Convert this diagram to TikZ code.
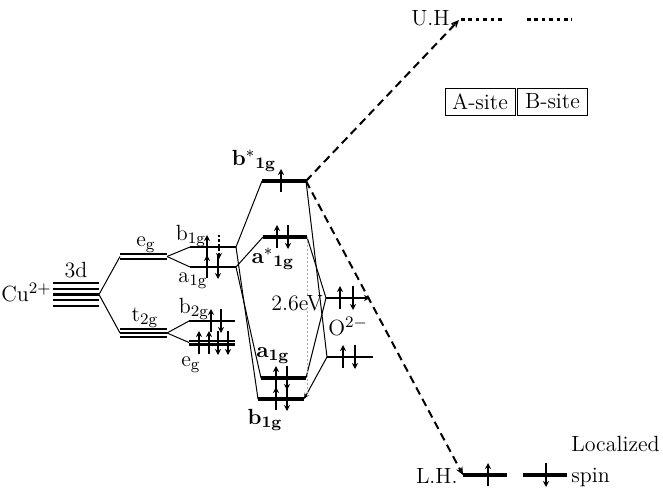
\documentclass[tikz,border=0pt]{standalone}
\usepackage{tikz}
\usetikzlibrary{arrows.meta}
\tikzset{
  thinlev/.style={line width=1.1pt},
  bondlev/.style={line width=1.7pt},
  link/.style={line width=0.5pt},
  spin/.style={-{Stealth[length=3pt,width=3pt]}, line width=0.85pt},
  hop/.style={-{Stealth[length=4pt,width=3.5pt]}, line width=1pt, dash pattern=on 4pt off 2.5pt},
  gap/.style={line width=0.5pt, draw=gray!70, dash pattern=on 1pt off 1pt},
  lbl/.style={inner sep=0pt, font=\fontsize{11}{13}\selectfont},
  sitebox/.style={draw, line width=0.4pt, minimum width=35pt, minimum height=13.5pt, inner sep=1pt, font=\fontsize{11}{13}\selectfont},
}
\newcommand\upspin[2]{\draw[spin] (#1,#2+11) -- (#1,#2-12);}
\newcommand\dnspin[2]{\draw[spin] (#1,#2-12) -- (#1,#2+12);}
\begin{document}
\begin{tikzpicture}[x=0.5pt, y=-0.5pt]
\useasboundingbox (0,0) rectangle (663,498);
% Cu 3d
\foreach \y in {283,289,294.5,300,306} \draw[thinlev] (53,\y) -- (99,\y);
\coordinate (d) at (99,294.5);
\node[lbl, anchor=east] (cu) at (52,293) {Cu$^{2+}$};
\node[lbl] (d3) at (76,270) {3d};
% cubic field
\foreach \y in {254,259} \draw[thinlev] (120,\y) -- (167,\y);
\foreach \y in {329,333,337} \draw[thinlev] (120,\y) -- (167,\y);
\coordinate (eg-l) at (120,256.5); \coordinate (eg-r) at (167,256.5);
\coordinate (tg-l) at (120,333); \coordinate (tg-r) at (167,333);
\node[lbl] (eglab) at (146,245) {e$_{\rm g}$};
\node[lbl] (tglab) at (145,318) {t$_{\rm 2g}$};
\draw[link] (d) -- (eg-l);
\draw[link] (d) -- (tg-l);
% tetragonal split
\coordinate (b1-l) at (190,247); \coordinate (b1-r) at (236,247);
\coordinate (a1-l) at (190,267); \coordinate (a1-r) at (236,267);
\coordinate (b2-l) at (189,321); \coordinate (b2-r) at (235,321);
\coordinate (e2-l) at (189,342.5); \coordinate (e2-r) at (235,342.5);
\draw[thinlev] (b1-l) -- (b1-r);
\draw[thinlev] (a1-l) -- (a1-r);
\draw[thinlev] (b2-l) -- (b2-r);
\foreach \y in {341,344.5} \draw[thinlev] (189,\y) -- (235,\y);
\draw[link] (eg-r) -- (b1-l);
\draw[link] (eg-r) -- (a1-l);
\draw[link] (tg-r) -- (b2-l);
\draw[link] (tg-r) -- (e2-l);
\node[lbl] (b1lab) at (191,236) {b$_{\rm 1g}$};
\node[lbl] (a1lab) at (193,281) {a$_{\rm 1g}$};
\node[lbl] (b2lab) at (194,309) {b$_{\rm 2g}$};
\node[lbl] (e2lab) at (191,365) {e$_{\rm g}$};
\upspin{207}{247}
\draw[spin, dash pattern=on 1.2pt off 1pt] (219,235) -- (219,259);
\upspin{207}{267} \dnspin{218}{267}
\upspin{211}{321} \dnspin{221}{321}
\upspin{199}{343} \upspin{209}{343} \dnspin{218}{343} \dnspin{228}{343}
% Cu-O levels
\coordinate (bs-l) at (262,181); \coordinate (bs-r) at (306,181);
\coordinate (as-l) at (263,237); \coordinate (as-r) at (307,237);
\coordinate (ab-l) at (261,378); \coordinate (ab-r) at (306,378);
\coordinate (bb-l) at (258,399); \coordinate (bb-r) at (304,399);
\draw[bondlev] (bs-l) -- (bs-r);
\draw[bondlev] (as-l) -- (as-r);
\draw[bondlev] (ab-l) -- (ab-r);
\draw[bondlev] (bb-l) -- (bb-r);
\node[lbl] (bslab) at (254,161) {$\mathbf{b^{*}{}_{1g}}$};
\node[lbl] (aslab) at (273,259) {$\mathbf{a^{*}{}_{1g}}$};
\node[lbl] (ablab) at (273,356) {$\mathbf{a_{1g}}$};
\node[lbl] (bblab) at (265,420) {$\mathbf{b_{1g}}$};
\upspin{281}{181}
\upspin{277}{237} \dnspin{288}{237}
\upspin{276}{378} \dnspin{287}{378}
\upspin{276}{399} \dnspin{287}{399}
\draw[link] (b1-r) -- (bs-l);
\draw[link] (a1-r) -- (as-l);
\draw[link] (b1-r) -- (bb-l);
\draw[link] (a1-r) -- (ab-l);
% O 2p
\coordinate (ou-l) at (326,298); \coordinate (ou-r) at (370,298);
\coordinate (ol-l) at (327,357); \coordinate (ol-r) at (373,357);
\draw[thinlev, -{Stealth[length=3pt,width=3pt]}] (ou-l) -- (ou-r);
\draw[thinlev] (ol-l) -- (ol-r);
\upspin{340}{298} \dnspin{353}{298}
\upspin{343}{357} \dnspin{355}{357}
\node[lbl] (olab) at (348,327) {O$^{2-}$};
\draw[link] (bs-r) -- (ol-l);
\draw[link] (as-r) -- (ou-l);
\draw[link] (ou-l) -- (ab-r);
\draw[link, -{Stealth[length=3pt,width=2.5pt]}] (ol-l) -- (bb-r);
% gap
\node[lbl] (ev) at (297,303) {2.6eV};
\draw[gap] (as-r) -- (as-r |- ev.north);
\draw[gap] (as-r |- ev.south) -- (as-r |- bb-r);
% Hubbard bands
\node[lbl, anchor=east] (uh) at (456,18) {U.H.};
\coordinate (uhp) at (459,20);
\draw[line width=1.5pt, dash pattern=on 1.8pt off 1.9pt] (461,19) -- (505,19);
\draw[line width=1.5pt, dash pattern=on 1.8pt off 1.9pt] (527,19) -- (572,19);
\draw[hop] (bs-r) -- (uhp);
\node[sitebox] (asite) at (480,101.5) {A-site};
\node[sitebox] (bsite) at (552.5,101.5) {B-site};
\node[lbl, anchor=east] (lh) at (458,476) {L.H.};
\coordinate (lh-l) at (463,475); \coordinate (lh-r) at (507,475);
\coordinate (ls-l) at (523,475); \coordinate (ls-r) at (567,475);
\draw[bondlev] (lh-l) -- (lh-r);
\draw[bondlev] (ls-l) -- (ls-r);
\upspin{488}{475} \dnspin{546}{475}
\draw[hop] (bs-r) -- (lh-l);
\node[lbl, anchor=west, align=left, font=\fontsize{11}{15.5}\selectfont] (loc) at (571,461) {Localized\\spin};
\end{tikzpicture}
\end{document}
